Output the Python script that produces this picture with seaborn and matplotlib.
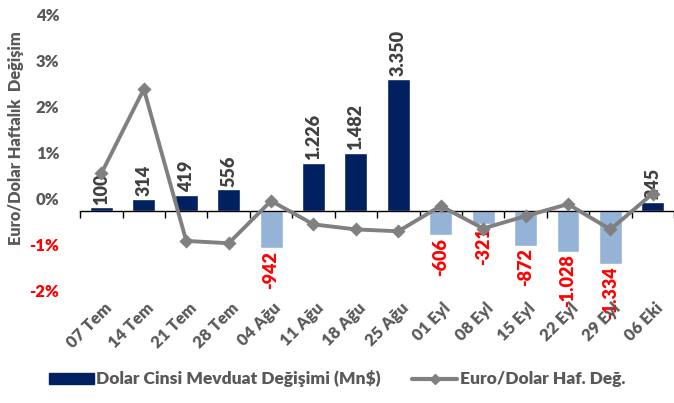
import numpy as np
import pandas as pd
import matplotlib
matplotlib.use('Agg')
import matplotlib.pyplot as plt
import matplotlib.transforms as mtrans
import seaborn as sns
from matplotlib.patches import Patch
from matplotlib.lines import Line2D

# weekly data
weeks = ['07 Tem', '14 Tem', '21 Tem', '28 Tem', '04 Ağu', '11 Ağu', '18 Ağu',
         '25 Ağu', '01 Eyl', '08 Eyl', '15 Eyl', '22 Eyl', '29 Eyl', '06 Eki']
deposit_change = [100, 314, 419, 556, -942, 1226, 1482, 3350,
                  -606, -321, -872, -1028, -1334, 245]
eurusd_change = [0.54, 2.37, -0.93, -0.98, -0.06, -0.57, -0.68, -0.72,
                 -0.17, -0.66, -0.39, -0.13, -0.68, 0.10]
pct_ticks = [-2, -1, 0, 1, 2, 3, 4]

NAVY = '#002060'
LIGHT = '#95B3D7'
GRAY = '#808080'
TXT = '#595959'
RED = '#FF0000'

sns.set_theme(style='white')
plt.rcParams['font.family'] = ['Lato', 'DejaVu Sans']
plt.rcParams['font.weight'] = 'heavy'

df = pd.DataFrame({'week': weeks, 'deposit': deposit_change, 'eurusd': eurusd_change})
bar_colors = [NAVY if v >= 0 else LIGHT for v in deposit_change]

fig = plt.figure(figsize=(6.74, 4.03), dpi=100)
ax = fig.add_axes([0.119, 0.28, 0.881, 0.685])

# bars on hidden secondary scale
sns.barplot(data=df, x='week', y='deposit', hue='week', palette=bar_colors,
            width=0.54, saturation=1, legend=False, ax=ax)
ax.set_ylim(-2000, 5000)
ax.set_xlim(-0.5, len(weeks) - 0.5)
ax.set_yticks([])
ax.set_xlabel('')
ax.set_ylabel('')
for s in ['left', 'right', 'top']:
    ax.spines[s].set_visible(False)
ax.spines['bottom'].set_position(('data', 0))
ax.spines['bottom'].set_color('black')
ax.spines['bottom'].set_linewidth(1)

# data labels
for cont, v in zip(ax.containers, deposit_change):
    lbl = f'{v:,}'.replace(',', '.')
    texts = ax.bar_label(cont, labels=[lbl], rotation=90, padding=2,
                         fontsize=13, fontweight='heavy')
    for t in texts:
        t.set_color('#404040' if v >= 0 else RED)

# line on the percent scale
ax2 = ax.twinx()
sns.pointplot(data=df, x='week', y='eurusd', color=GRAY, markers='D',
              markersize=5.5, linewidth=2.8, ax=ax2)
ax2.set_ylim(-2, 4)
ax2.set_xlim(-0.5, len(weeks) - 0.5)
for s in ax2.spines.values():
    s.set_visible(False)

# x ticks: marks at category edges, labels at the bottom
ax.set_xticks(np.arange(-0.5, len(weeks), 1))
ax.set_xticks(np.arange(len(weeks)), minor=True)
ax.tick_params(axis='x', which='major', bottom=True, length=5, width=1,
               color='black', direction='out', labelbottom=False)
ax.tick_params(axis='x', which='minor', length=0, labelbottom=False)
ax2.xaxis.set_visible(True)
ax2.set_xticks(np.arange(-0.5, len(weeks), 1))
ax2.set_xticks(np.arange(len(weeks)), labels=weeks, minor=True)
ax2.tick_params(axis='x', which='major', length=0, labelbottom=False)
ax2.tick_params(axis='x', which='minor', length=0, labelbottom=True, pad=7,
                labelsize=12, labelcolor=TXT, labelrotation=45)
shift = mtrans.ScaledTranslation(2 / 100, 0, fig.dpi_scale_trans)
for t in ax2.get_xticklabels(minor=True):
    t.set_ha('right')
    t.set_rotation_mode('anchor')
    t.set_transform(t.get_transform() + shift)
ax2.set_xlabel('')

# y ticks on the left
ax2.yaxis.tick_left()
ax2.set_yticks(pct_ticks, labels=[f'{v}%' for v in pct_ticks])
ax2.tick_params(axis='y', length=0, pad=15, labelsize=12)
for t, v in zip(ax2.get_yticklabels(), pct_ticks):
    t.set_color(RED if v < 0 else TXT)
ax2.yaxis.set_label_position('left')
ax2.set_ylabel('Euro/Dolar Haftalık  Değişim', fontsize=11.8, color=TXT,
               fontweight='heavy')
ax2.yaxis.set_label_coords(-0.095, 0.55)

handles = [Patch(facecolor=NAVY, edgecolor=NAVY),
           Line2D([], [], color=GRAY, lw=3, marker='D', markersize=5)]
fig.legend(handles, ['Dolar Cinsi Mevduat Değişimi (Mn$)', 'Euro/Dolar Haf. Değ.'],
           loc='lower center', bbox_to_anchor=(0.5, 0.0), ncol=2, frameon=False,
           fontsize=12.5, labelcolor=TXT, handlelength=2.6, handleheight=0.6,
           handletextpad=0.15, columnspacing=1.8)

fig.savefig('out.png', dpi=100)
